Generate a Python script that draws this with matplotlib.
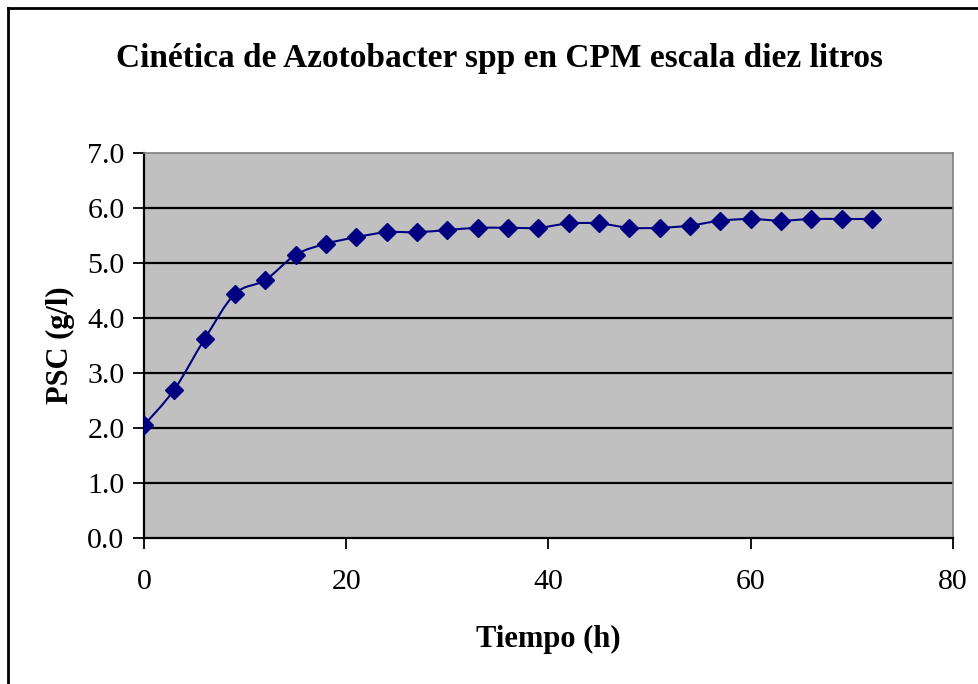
import numpy as np
import matplotlib
matplotlib.use("Agg")
import matplotlib.pyplot as plt
from matplotlib.path import Path
from matplotlib.patches import PathPatch
from matplotlib.lines import Line2D

tiempo = [0, 3, 6, 9, 12, 15, 18, 21, 24, 27, 30, 33, 36, 39, 42, 45, 48, 51, 54, 57, 60, 63, 66, 69, 72]
psc = [2.05, 2.70, 3.62, 4.44, 4.69, 5.15, 5.35, 5.47, 5.56, 5.56, 5.60, 5.64, 5.64, 5.64, 5.72, 5.72,
       5.64, 5.64, 5.68, 5.77, 5.80, 5.77, 5.80, 5.80, 5.80]
y_ticks = [0.0, 1.0, 2.0, 3.0, 4.0, 5.0, 6.0, 7.0]
x_ticks = [0, 20, 40, 60, 80]
title = "Cinética de Azotobacter spp en CPM escala diez litros"
xlabel = "Tiempo (h)"
ylabel = "PSC (g/l)"

plt.rcParams['font.family'] = ['Liberation Serif', 'DejaVu Serif']

W, H = 979, 684
fig = plt.figure(figsize=(W / 100, H / 100), dpi=100)
ax = fig.add_axes([144 / W, 1 - 538 / H, (953 - 144) / W, (538 - 153) / H])
ax.set_facecolor('#C0C0C0')
ax.set_xlim(0, 80)
ax.set_ylim(0, 7)

# gridlines
for t in y_ticks[1:-1]:
    ax.axhline(t, color='black', lw=1.6, zorder=1)

# smooth curve (Excel-like Bezier)
x = np.array(tiempo, float)
y = np.array(psc, float)
P = np.column_stack([x, y])
n = len(P)
verts = [P[0]]
codes = [Path.MOVETO]
for i in range(n - 1):
    p0 = P[i - 1] if i > 0 else P[i]
    p1 = P[i]
    p2 = P[i + 1]
    p3 = P[i + 2] if i + 2 < n else P[i + 1]
    c1 = p1 + (p2 - p0) / 6.0
    c2 = p2 - (p3 - p1) / 6.0
    verts += [c1, c2, p2]
    codes += [Path.CURVE4] * 3
ax.add_patch(PathPatch(Path(verts, codes), fill=False, edgecolor='#000080', lw=1.5, zorder=3))
ax.plot(tiempo, psc, linestyle='none', marker='D', markersize=9, color='#000080', zorder=4)

ax.set_xticks(x_ticks)
ax.set_yticks(y_ticks)
ax.set_yticklabels([f"{v:.1f}" for v in y_ticks])
ax.tick_params(axis='both', direction='out', length=8, width=1.3, color='black',
               labelsize=21.5)
ax.tick_params(axis='x', pad=14)
ax.tick_params(axis='y', pad=6)
for s in ['top', 'right']:
    ax.spines[s].set_color('#808080')
    ax.spines[s].set_linewidth(1.2)
for s in ['left', 'bottom']:
    ax.spines[s].set_color('black')
    ax.spines[s].set_linewidth(1.6)

ax.set_xlabel(xlabel, fontsize=22, fontweight='bold', labelpad=22)
ax.set_ylabel(ylabel, fontsize=22, fontweight='bold', labelpad=9)

fig.text(500 / W, 1 - 58 / H, title, fontsize=24, fontweight='bold', ha='center', va='center')

# chart border (left and top visible)
fig.add_artist(Line2D([8 / W, 8 / W], [0, 1 - 8 / H], transform=fig.transFigure, color='black', lw=2))
fig.add_artist(Line2D([8 / W, 1], [1 - 8 / H, 1 - 8 / H], transform=fig.transFigure, color='black', lw=2))

fig.savefig("out.png", dpi=100, facecolor='white')
